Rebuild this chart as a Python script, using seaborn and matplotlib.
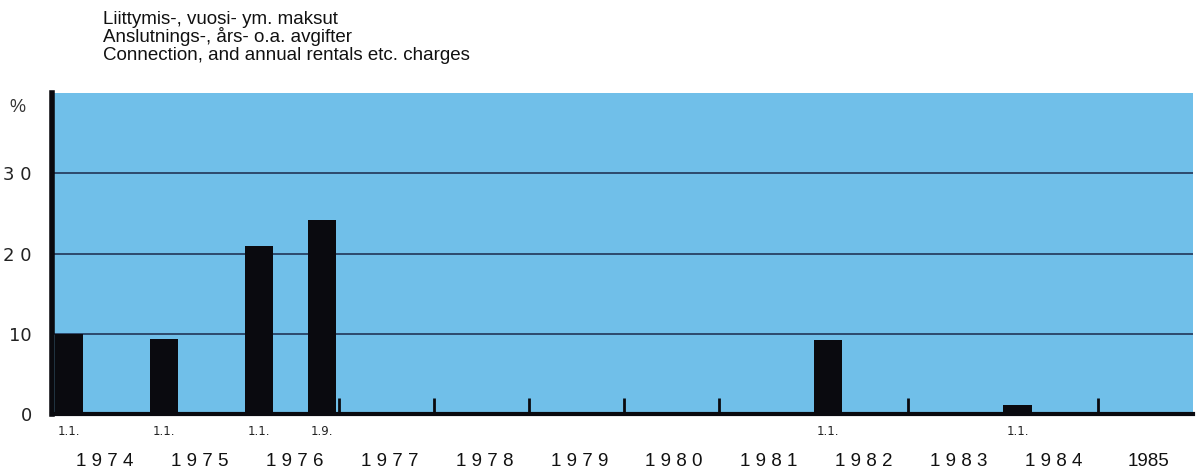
import matplotlib
matplotlib.use("Agg")
import matplotlib.pyplot as plt
import seaborn as sns

# Data: charge increases (%) at given dates
dates = [1974.0, 1975.0, 1976.0, 1976 + 8 / 12, 1982.0, 1984.0]
date_labels = ["1.1.", "1.1.", "1.1.", "1.9.", "1.1.", "1.1."]
increase = [10.0, 9.3, 21.0, 24.2, 9.2, 1.1]

years = list(range(1974, 1986))
year_labels = ["1 9 7 4", "1 9 7 5", "1 9 7 6", "1 9 7 7", "1 9 7 8",
               "1 9 7 9", "1 9 8 0", "1 9 8 1", "1 9 8 2", "1 9 8 3",
               "1 9 8 4", "1985"]
year_marks = [1977, 1978, 1979, 1980, 1981, 1983, 1985]
y_ticks = [0, 10, 20, 30]
y_ticklabels = ["0", "10", "2 0", "3 0"]

title_lines = [
    "Liittymis-, vuosi- ym. maksut",
    "Anslutnings-, års- o.a. avgifter",
    "Connection, and annual rentals etc. charges",
]

sns.set_style("white")
plt.rcParams["font.family"] = ["Liberation Sans", "DejaVu Sans"]

fig = plt.figure(figsize=(11.96, 4.73), dpi=100)
ax = fig.add_axes([0.0435, 0.1247, 0.954, 0.6786])
ax.set_facecolor("#70bfe9")

bar_width = 0.3
ax.bar(dates, increase, width=bar_width, align="edge", color="#0a0a0f",
       edgecolor="#0a0a0f", linewidth=0, zorder=3)

# small marks at year boundaries
ax.vlines(year_marks, 0, 2.0, color="#0a0a0f", lw=2, zorder=3)

# gridlines
for t in y_ticks[1:]:
    ax.axhline(t, color="#1a2a4a", lw=1.1, zorder=2)

ax.set_xlim(1974 - 0.03, 1986)
ax.set_ylim(0, 40)

ax.set_yticks(y_ticks)
ax.set_yticklabels(y_ticklabels, fontsize=13, color="#222222",
                   family="DejaVu Sans")
ax.tick_params(axis="y", length=6.5, width=1, pad=8, color="#1a2a4a")

ax.set_xticks([y + 0.53 for y in years])
ax.set_xticklabels(year_labels, fontsize=13.5, color="#111111")
ax.tick_params(axis="x", length=0, pad=28)

for d, lab in zip(dates, date_labels):
    ax.text(d + bar_width / 2, -0.055, lab, transform=ax.get_xaxis_transform(),
            ha="center", va="center", fontsize=8.5, color="#222222",
            family="DejaVu Sans")

ax.text(-0.03, 0.955, "%", transform=ax.transAxes, ha="center", va="center",
        fontsize=13, color="#333333")

for s in ["top", "right"]:
    ax.spines[s].set_visible(False)
ax.spines["left"].set_linewidth(4)
ax.spines["left"].set_color("#0a0a0f")
ax.spines["bottom"].set_linewidth(3)
ax.spines["bottom"].set_color("#0a0a0f")
ax.spines["left"].set_zorder(4)
ax.spines["bottom"].set_zorder(4)

for i, line in enumerate(title_lines):
    fig.text(0.0865, 1 - (24 + i * 18) / 473, line, ha="left", va="baseline",
             fontsize=13.5, color="#111111")

fig.savefig("out.png", dpi=100)
